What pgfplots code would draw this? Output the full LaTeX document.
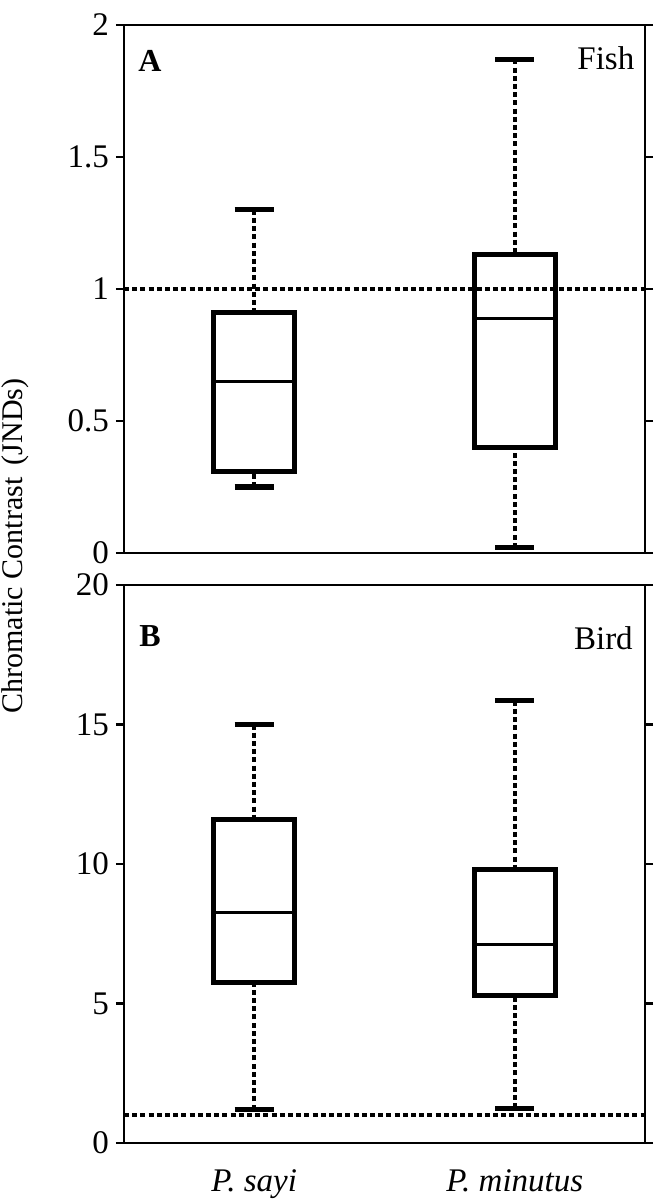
\documentclass[border=0pt]{standalone}
\usepackage{fontspec}
\setmainfont{Liberation Serif}
\usepackage{pgfplots}
\pgfplotsset{compat=1.18}
\usepgfplotslibrary{statistics}
\usetikzlibrary{calc}

% whisker: dotted stem, solid cap
\pgfplotsset{
  panel/.style={
    scale only axis,
    width=260.5pt,
    xmin=0.5, xmax=2.5,
    xtick={1,2},
    major x tick style={draw=none},
    tick align=outside,
    major tick length=4pt,
    axis line style={line width=1.1pt},
    every tick/.style={line width=1.1pt, black},
    /pgf/number format/assume math mode=true,
    tick label style={font=\fontsize{16.5}{18}\selectfont},
    boxplot/draw direction=y,
    boxplot/box extend=0.31,
    boxplot/whisker extend=0.15,
    boxplot/every box/.style={line width=2.4pt},
    boxplot/every median/.style={line width=1.5pt},
    boxplot/draw/lower whisker/.code={
      \draw[line width=2pt, dash pattern=on 2.5pt off 1.6pt]
        (boxplot box cs:\pgfplotsboxplotvalue{lower whisker},0.5) --
        (boxplot box cs:\pgfplotsboxplotvalue{lower quartile},0.5);
      \draw[line width=2.6pt]
        (boxplot whisker cs:\pgfplotsboxplotvalue{lower whisker},0) --
        (boxplot whisker cs:\pgfplotsboxplotvalue{lower whisker},1);
    },
    boxplot/draw/upper whisker/.code={
      \draw[line width=2pt, dash pattern=on 2.5pt off 1.6pt]
        (boxplot box cs:\pgfplotsboxplotvalue{upper whisker},0.5) --
        (boxplot box cs:\pgfplotsboxplotvalue{upper quartile},0.5);
      \draw[line width=2.6pt]
        (boxplot whisker cs:\pgfplotsboxplotvalue{upper whisker},0) --
        (boxplot whisker cs:\pgfplotsboxplotvalue{upper whisker},1);
    },
  },
  refline/.style={black, line width=2pt, dash pattern=on 2.5pt off 1.6pt},
}

\begin{document}
\begin{tikzpicture}

% A: fish
\begin{axis}[panel, name=top, at={(0,0)}, anchor=north west,
  height=264pt, ymin=0, ymax=2, ytick={0,0.5,1,1.5,2},
  yticklabels={0,0.5,1,1.5,2}, xticklabels={}]
\addplot[refline] coordinates {(0.5,1) (2.5,1)};
\addplot[black, boxplot prepared={draw position=1,
  lower whisker=0.25, lower quartile=0.31, median=0.65,
  upper quartile=0.91, upper whisker=1.30}] coordinates {};
\addplot[black, boxplot prepared={draw position=2,
  lower whisker=0.02, lower quartile=0.40, median=0.89,
  upper quartile=1.13, upper whisker=1.87}] coordinates {};
\node[font=\bfseries\fontsize{16}{18}\selectfont] at (rel axis cs:0.05,0.932) {A};
\node[anchor=east, font=\fontsize{16.5}{18}\selectfont] at (rel axis cs:0.993,0.937) {Fish};
\end{axis}

% B: bird
\begin{axis}[panel, name=bot, at={(0,-280pt)}, anchor=north west,
  height=279pt, ymin=0, ymax=20, ytick={0,5,10,15,20},
  xticklabels={\textit{P. sayi},\textit{P. minutus}},
  xticklabel style={font=\fontsize{16.5}{18}\selectfont\itshape, yshift=-6pt}]
\addplot[refline] coordinates {(0.5,1) (2.5,1)};
\addplot[black, boxplot prepared={draw position=1,
  lower whisker=1.2, lower quartile=5.75, median=8.25,
  upper quartile=11.6, upper whisker=15.0}] coordinates {};
\addplot[black, boxplot prepared={draw position=2,
  lower whisker=1.25, lower quartile=5.3, median=7.1,
  upper quartile=9.8, upper whisker=15.85}] coordinates {};
\node[font=\bfseries\fontsize{16}{18}\selectfont] at (rel axis cs:0.05,0.908) {B};
\node[anchor=east, font=\fontsize{16.5}{18}\selectfont] at (rel axis cs:0.99,0.905) {Bird};
\end{axis}

\node[rotate=90, font=\fontsize{15}{17}\selectfont] at ($(top.south west)+(-54.5pt,3.5pt)$)
  {Chromatic Contrast\, (JNDs)};

\pgfresetboundingbox
\path ($(top.north west)+(-62pt,12.5pt)$) rectangle ($(bot.south east)+(10.5pt,-29pt)$);

\end{tikzpicture}
\end{document}
